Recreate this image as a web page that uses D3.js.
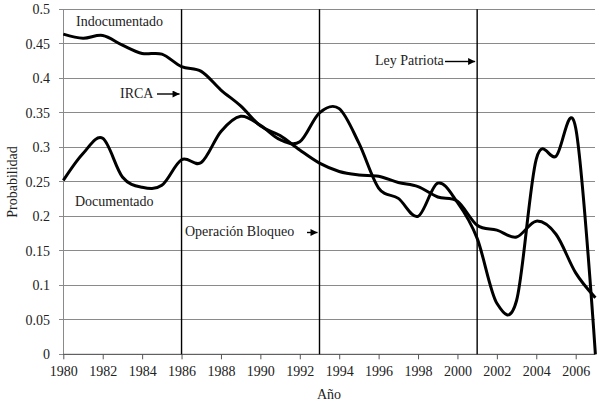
<!DOCTYPE html>
<html><head><meta charset="utf-8">
<script src="https://cdn.jsdelivr.net/npm/d3@7/dist/d3.min.js"></script>
<style>body{margin:0;background:#fff}svg{display:block}text{font-family:"Liberation Serif","Times New Roman",serif;fill:#222}</style>
</head><body><svg id="c" width="601" height="405"></svg>
<script>
const years = d3.range(1980, 2008);
const indocumentado = [0.464,0.458,0.462,0.448,0.436,0.435,0.417,0.410,0.383,0.360,0.331,0.317,0.296,0.277,0.265,0.260,0.258,0.249,0.243,0.228,0.222,0.187,0.180,0.170,0.193,0.174,0.118,0.082];
const documentado   = [0.252,0.291,0.313,0.257,0.242,0.245,0.282,0.278,0.323,0.345,0.332,0.311,0.308,0.350,0.356,0.306,0.241,0.226,0.200,0.248,0.220,0.168,0.074,0.078,0.283,0.287,0.328,0.000];
const yTicks = [0,0.05,0.1,0.15,0.2,0.25,0.3,0.35,0.4,0.45,0.5];
const xTicks = d3.range(1980, 2007, 2);
const events = [
  {year:1986, label:"IRCA", ty:97.5, tx0:120, ax0:157},
  {year:1993, label:"Operación Bloqueo", ty:236, tx0:185, ax0:307},
  {year:2001, label:"Ley Patriota", ty:65, tx0:375, ax0:445}
];
const seriesLabels = [{text:"Indocumentado", x:76, y:25.5},{text:"Documentado", x:75, y:206}];

const FS = "14px";
const svg = d3.select("#c");
const x = d3.scaleLinear().domain([1980, 2007]).range([63.3, 595.4]);
const y = d3.scaleLinear().domain([0, 0.5]).range([354.3, 9.3]);

svg.append("g").selectAll("line").data(yTicks).join("line")
  .attr("x1", x(1980)-4).attr("x2", x(2007)).attr("y1", d=>y(d)).attr("y2", d=>y(d))
  .attr("stroke", "#8a8a8a").attr("stroke-width", 1).attr("shape-rendering","crispEdges");
svg.append("line").attr("x1", x(1980)).attr("x2", x(1980)).attr("y1", y(0.5)).attr("y2", y(0))
  .attr("stroke", "#8a8a8a").attr("shape-rendering","crispEdges");
const xa = svg.append("g").attr("transform", `translate(0,${y(0)})`)
  .call(d3.axisBottom(x).tickValues(xTicks).tickFormat(d3.format("d")).tickSize(5).tickPadding(7));
xa.select(".domain").attr("stroke", "#555").attr("d", `M${x(1980)},0H${x(2007)}`);
xa.selectAll(".tick line").attr("stroke", "#555");
xa.selectAll("text").attr("font-size", FS).attr("font-family", "Liberation Serif").attr("fill","#222");
svg.append("g").selectAll("text").data(yTicks).join("text")
  .attr("x", 50).attr("y", d=>y(d)).attr("dy", "0.35em").attr("text-anchor", "end")
  .attr("font-size", FS).text(d=>d3.format("")(d));

svg.append("g").selectAll("line").data(events).join("line")
  .attr("x1", d=>x(d.year)).attr("x2", d=>x(d.year)).attr("y1", y(0.5)).attr("y2", y(0))
  .attr("stroke", "#000").attr("stroke-width", 1.4);

svg.append("defs").append("marker").attr("id","ah").attr("viewBox","0 0 10 10")
  .attr("refX",10).attr("refY",5).attr("markerWidth",8).attr("markerHeight",7)
  .attr("markerUnits","userSpaceOnUse").attr("orient","auto")
  .append("path").attr("d","M0,0L10,5L0,10z").attr("fill","#000");
const eg = svg.append("g");
events.forEach(e=>{
  eg.append("text").attr("x", e.tx0).attr("y", e.ty).attr("font-size",FS).text(e.label);
  eg.append("line").attr("x1", e.ax0).attr("x2", x(e.year)-2).attr("y1", e.ty-3.5).attr("y2", e.ty-3.5)
    .attr("stroke","#000").attr("stroke-width",1.4).attr("marker-end","url(#ah)");
});

const line = d3.line().x((d,i)=>x(years[i])).y(d=>y(d)).curve(d3.curveCatmullRom.alpha(0));
[indocumentado, documentado].forEach(s=>{
  svg.append("path").attr("d", line(s)).attr("fill","none").attr("stroke","#000")
    .attr("stroke-width",3).attr("stroke-linejoin","round");
});
svg.append("g").selectAll("text").data(seriesLabels).join("text")
  .attr("x", d=>d.x).attr("y", d=>d.y).attr("font-size",FS).text(d=>d.text);

svg.append("text").attr("x", 329).attr("y", 399).attr("text-anchor","middle").attr("font-size",FS).text("Año");
svg.append("text").attr("transform","translate(17,182) rotate(-90)").attr("text-anchor","middle").attr("font-size",FS).text("Probabilidad");
</script></body></html>
